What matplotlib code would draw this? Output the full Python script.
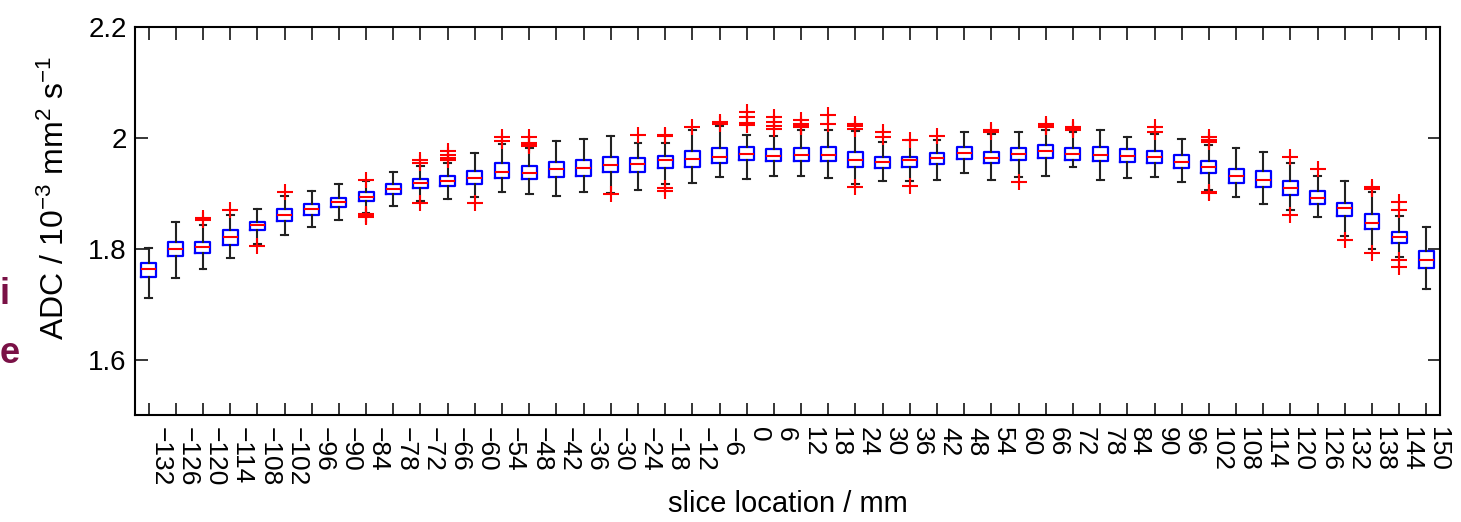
import matplotlib
matplotlib.use('Agg')
import matplotlib.pyplot as plt

plt.rcParams['font.family'] = ['Liberation Sans', 'DejaVu Sans']
plt.rcParams['mathtext.fontset'] = 'custom'
plt.rcParams['mathtext.rm'] = 'Liberation Sans'
plt.rcParams['mathtext.it'] = 'Liberation Sans'

# slice locations (mm)
slices = [-132, -126, -120, -114, -108, -102, -96, -90, -84, -78, -72, -66,
          -60, -54, -48, -42, -36, -30, -24, -18, -12, -6, 0, 6,
          12, 18, 24, 30, 36, 42, 48, 54, 60, 66, 72, 78,
          84, 90, 96, 102, 108, 114, 120, 126, 132, 138, 144, 150]

med = [1.763, 1.800, 1.804, 1.821, 1.842, 1.861, 1.872, 1.884, 1.894, 1.907, 1.919, 1.923,
       1.928, 1.939, 1.936, 1.944, 1.946, 1.951, 1.953, 1.960, 1.962, 1.965, 1.971, 1.967,
       1.969, 1.970, 1.961, 1.957, 1.960, 1.963, 1.973, 1.963, 1.971, 1.977, 1.971, 1.970,
       1.967, 1.966, 1.957, 1.948, 1.931, 1.925, 1.909, 1.891, 1.874, 1.847, 1.822, 1.780]

q3 = [1.774, 1.813, 1.813, 1.833, 1.849, 1.872, 1.881, 1.892, 1.902, 1.916, 1.926, 1.931,
      1.941, 1.955, 1.950, 1.957, 1.960, 1.965, 1.963, 1.968, 1.977, 1.981, 1.983, 1.980,
      1.981, 1.984, 1.974, 1.965, 1.965, 1.972, 1.983, 1.975, 1.982, 1.987, 1.981, 1.983,
      1.980, 1.977, 1.970, 1.959, 1.944, 1.941, 1.922, 1.905, 1.883, 1.863, 1.831, 1.796]

q1 = [1.749, 1.787, 1.792, 1.807, 1.833, 1.851, 1.861, 1.875, 1.886, 1.898, 1.910, 1.914,
      1.917, 1.927, 1.926, 1.929, 1.931, 1.939, 1.939, 1.946, 1.948, 1.954, 1.960, 1.958,
      1.958, 1.959, 1.948, 1.946, 1.948, 1.953, 1.962, 1.954, 1.960, 1.963, 1.961, 1.959,
      1.957, 1.955, 1.946, 1.936, 1.919, 1.911, 1.897, 1.881, 1.859, 1.835, 1.810, 1.765]

whi_hi = [1.801, 1.849, 1.842, 1.861, 1.872, 1.895, 1.905, 1.917, 1.923, 1.938, 1.949, 1.955,
          1.973, 1.989, 1.982, 1.995, 1.998, 2.004, 1.990, 1.990, 2.014, 2.022, 2.005, 2.003,
          2.015, 2.015, 2.013, 1.993, 1.996, 1.996, 2.011, 2.008, 2.011, 2.014, 2.011, 2.014,
          2.002, 2.008, 1.999, 1.987, 1.981, 1.974, 1.955, 1.931, 1.923, 1.903, 1.859, 1.839]

whi_lo = [1.712, 1.747, 1.763, 1.784, 1.808, 1.825, 1.840, 1.852, 1.864, 1.877, 1.886, 1.889,
          1.894, 1.903, 1.898, 1.895, 1.902, 1.900, 1.906, 1.917, 1.919, 1.929, 1.926, 1.931,
          1.931, 1.928, 1.916, 1.923, 1.923, 1.924, 1.937, 1.924, 1.930, 1.932, 1.947, 1.924,
          1.928, 1.929, 1.920, 1.906, 1.894, 1.881, 1.870, 1.857, 1.823, 1.799, 1.786, 1.727]

outliers = [
    [], [], [1.852, 1.856], [1.870], [1.805], [1.902], [], [],
    [1.925, 1.858, 1.860, 1.862], [], [1.961, 1.955, 1.883], [1.976, 1.970, 1.964, 1.961],
    [1.882], [2.002, 1.995], [2.002, 1.990, 1.987, 1.985], [], [], [1.898],
    [2.005], [2.004, 2.006, 1.910, 1.905], [2.019], [2.028, 2.025],
    [2.047, 2.037, 2.027, 2.024], [2.038, 2.029, 2.022, 2.016],
    [2.032, 2.026, 2.020, 2.022], [2.041, 2.026], [2.026, 2.021, 2.017, 1.911],
    [2.011, 2.002], [1.997, 1.914], [2.003], [], [2.014, 2.011], [1.921],
    [2.026, 2.021, 2.019], [2.020, 2.017, 2.014], [], [], [2.020, 2.011], [],
    [2.002, 1.996, 1.993, 1.903, 1.900], [], [], [1.966, 1.861], [1.944],
    [1.815], [1.912, 1.908, 1.792], [1.885, 1.870, 1.779, 1.768], [],
]

stats = []
for i in range(len(slices)):
    stats.append(dict(med=med[i], q1=q1[i], q3=q3[i], whislo=whi_lo[i],
                      whishi=whi_hi[i], fliers=outliers[i]))

fig = plt.figure(figsize=(14.61, 5.22), dpi=100, facecolor='white')
ax = fig.add_axes([0.0924, 0.205, 0.8932, 0.743])

pos = list(range(1, len(slices) + 1))
ax.bxp(stats, positions=pos, widths=0.55, capwidths=0.25,
       boxprops=dict(color='blue', lw=1.6),
       medianprops=dict(color='red', lw=1.5),
       whiskerprops=dict(color='#222222', lw=1.5),
       capprops=dict(color='#222222', lw=1.5),
       flierprops=dict(marker='+', markeredgecolor='red', markersize=11,
                       markeredgewidth=1.5, linestyle='none'),
       manage_ticks=False)

ax.set_xlim(0.5, len(slices) + 0.5)
ax.set_ylim(1.5, 2.2)
ax.set_yticks([1.6, 1.8, 2.0, 2.2])
ax.set_yticklabels(['1.6', '1.8', '2', '2.2'], fontsize=20)
ax.set_xticks(pos)
ax.set_xticklabels([str(s).replace('-', '\u2212') for s in slices], rotation=-90,
                   ha='left', va='top', fontsize=19)
ax.tick_params(direction='in', top=True, right=True, length=9, width=1.1)
ax.tick_params(axis='x', pad=9)
ax.tick_params(axis='y', pad=6)
for sp in ax.spines.values():
    sp.set_linewidth(1.5)

ax.set_xlabel('slice location / mm', fontsize=21, labelpad=2)
ax.set_ylabel(r'ADC / 10$^{-3}$ mm$^{2}$ s$^{-1}$', fontsize=23)
ax.yaxis.set_label_coords(-0.049, 0.56)

# cropped slide text at left edge
fig.text(0.0, 0.418, 'i', color='#7a1146', fontsize=26, fontweight='bold')
fig.text(0.0, 0.305, 'e', color='#7a1146', fontsize=26, fontweight='bold')

fig.savefig('out.png', dpi=100, facecolor='white')
